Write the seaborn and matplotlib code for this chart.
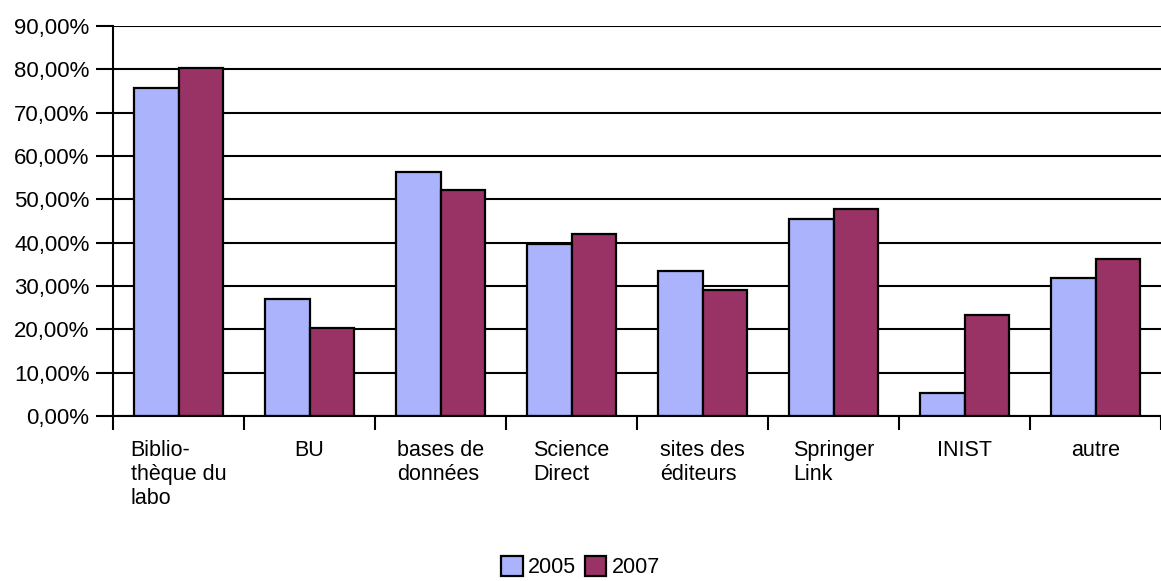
import matplotlib

matplotlib.use("Agg")
import matplotlib.pyplot as plt
import pandas as pd
import seaborn as sns
from matplotlib.ticker import FuncFormatter

# Sources utilisees pour trouver les articles, 2005 vs 2007
categories = [
    "Biblio-\nthèque du\nlabo",
    "BU",
    "bases de\ndonnées",
    "Science\nDirect",
    "sites des\néditeurs",
    "Springer\nLink",
    "INIST",
    "autre",
]
values_2005 = [75.7, 26.9, 56.3, 39.7, 33.5, 45.5, 5.4, 31.8]
values_2007 = [80.3, 20.2, 52.2, 42.0, 29.1, 47.8, 23.3, 36.3]
years = ["2005", "2007"]
y_ticks = [0, 10, 20, 30, 40, 50, 60, 70, 80, 90]

COLORS = {"2005": "#aab3fb", "2007": "#993366"}

df = pd.DataFrame(
    {
        "source": categories * 2,
        "annee": [years[0]] * len(categories) + [years[1]] * len(categories),
        "pct": values_2005 + values_2007,
    }
)

sns.set_style("white")
plt.rcParams["font.family"] = ["Liberation Sans", "DejaVu Sans"]
plt.rcParams["text.color"] = "black"
plt.rcParams["xtick.color"] = "black"
plt.rcParams["ytick.color"] = "black"

fig = plt.figure(figsize=(11.61, 5.81), dpi=100)
ax = fig.add_axes([113 / 1161, 165 / 581, 1048 / 1161, 390 / 581])

sns.barplot(
    data=df,
    x="source",
    y="pct",
    hue="annee",
    palette=COLORS,
    width=0.68,
    edgecolor="black",
    linewidth=1.6,
    saturation=1,
    ax=ax,
    zorder=3,
)

ax.set_ylim(0, 90)
ax.set_xlim(-0.5, -0.5 + 1048 / 132)
ax.set_yticks(y_ticks)
ax.yaxis.set_major_formatter(FuncFormatter(lambda v, _: f"{v:.2f}%".replace(".", ",")))
ax.grid(axis="y", color="black", linewidth=1.5, zorder=0)
ax.set_axisbelow(True)

for side in ("top", "right"):
    ax.spines[side].set_visible(False)
for side in ("left", "bottom"):
    ax.spines[side].set_color("black")
    ax.spines[side].set_linewidth(1.5)
    ax.spines[side].set_zorder(4)

ax.set_xlabel("")
ax.set_ylabel("")

# etiquettes au centre des categories, graduations entre les categories
ax.set_xticks(range(len(categories)))
ax.set_xticklabels(categories)
ax.set_xticks([i - 0.5 for i in range(len(categories) + 1)], minor=True)
ax.tick_params(axis="x", which="major", length=0, pad=17, labelsize=15.5, labelcolor="black")
ax.tick_params(axis="x", which="minor", bottom=True, length=10, width=1.5, color="black", direction="out")
ax.tick_params(axis="y", length=12, width=1.5, color="black", direction="out", pad=5,
               labelsize=16, labelcolor="black", left=True)
for lbl in ax.get_xticklabels():
    lbl.set_verticalalignment("top")
    lbl.set_multialignment("left")
    lbl.set_linespacing(1.2)

handles, labels = ax.get_legend_handles_labels()
ax.legend_.remove()
fig.legend(
    handles,
    labels,
    loc="lower center",
    bbox_to_anchor=(0.5, -0.01),
    ncol=2,
    frameon=False,
    fontsize=15.5,
    labelcolor="black",
    handlelength=1.0,
    handleheight=1.1,
    handletextpad=0.25,
    columnspacing=0.4,
    borderaxespad=0.0,
)

fig.savefig("out.png", dpi=100)
plt.close(fig)
